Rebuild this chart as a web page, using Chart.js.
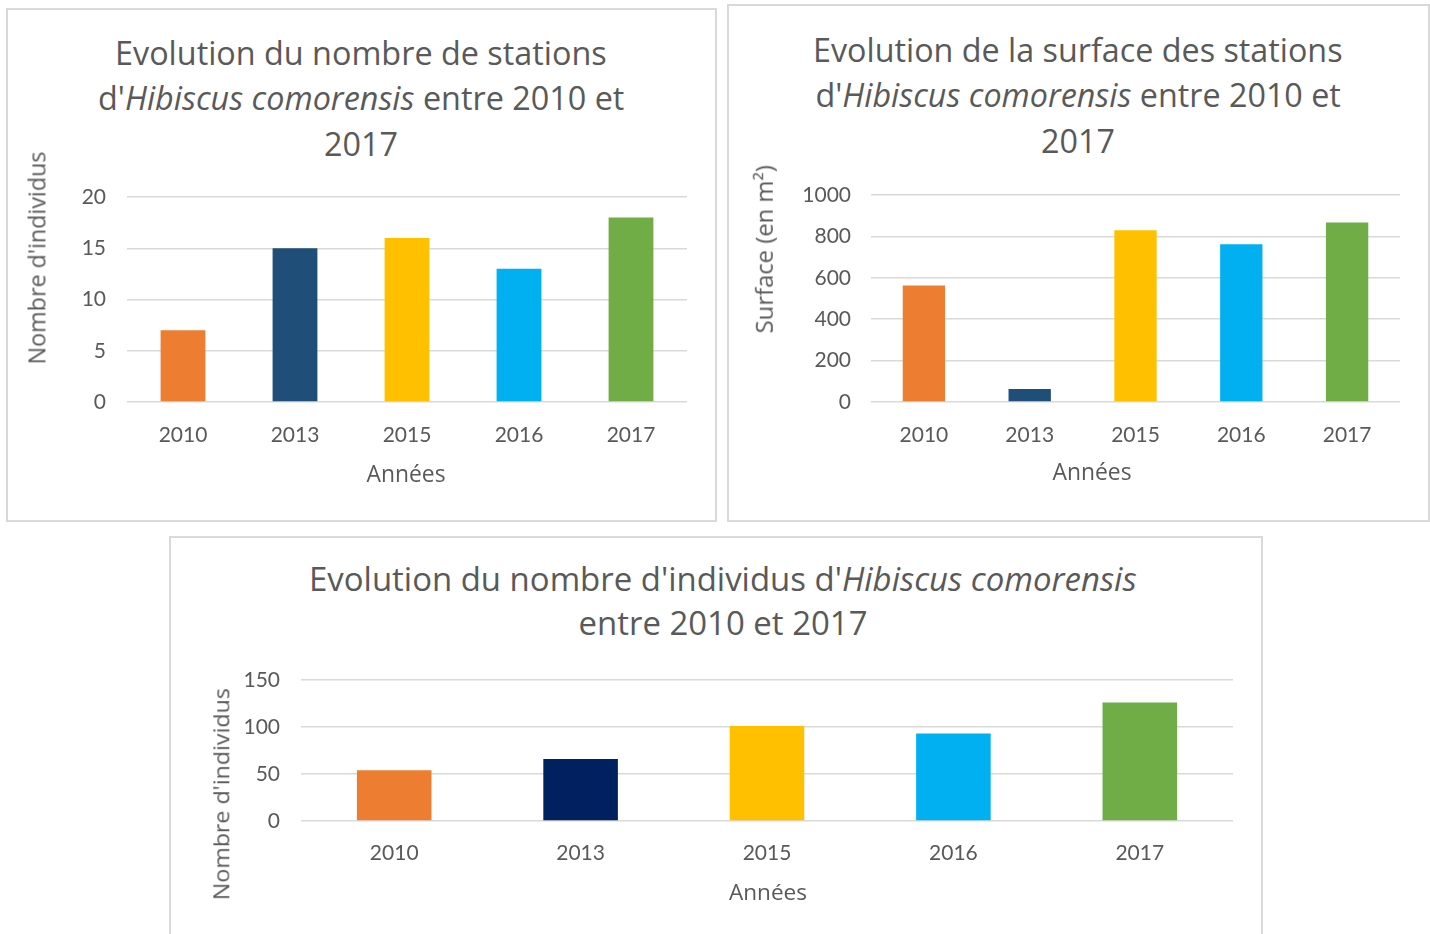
<!DOCTYPE html>
<html>
<head>
<meta charset="utf-8">
<script src="https://cdn.jsdelivr.net/npm/chart.js@4.4.0/dist/chart.umd.min.js"></script>
<style>
  body { margin: 0; width: 1430px; height: 934px; overflow: hidden; background: #fff; position: relative;
         font-family: 'Open Sans', sans-serif; color: #595959; }
  .box { position: absolute; border: 2px solid #d9d9d9; box-sizing: border-box; }
  .txt { position: absolute; white-space: nowrap; line-height: 1.2; }
  canvas { position: absolute; }
</style>
</head>
<body>
<div class="box" style="left:6px;top:8px;width:711px;height:514px"></div>
<div class="box" style="left:727px;top:4px;width:703px;height:518px"></div>
<div class="box" style="left:169px;top:536px;width:1094px;height:410px"></div>

<canvas id="c1" width="690" height="320" style="left:10px;top:180px"></canvas>
<canvas id="c2" width="680" height="320" style="left:735px;top:175px"></canvas>
<canvas id="c3" width="1070" height="270" style="left:180px;top:660px"></canvas>

<script>
// data
const years = ['2010', '2013', '2015', '2016', '2017'];
const nbStations = [7, 15, 16, 13, 18];
const surfaceStations = [563, 63, 830, 762, 867];
const nbIndividus = [54, 66, 101, 93, 126];

const coloursTop = ['#ED7D31', '#1F4E79', '#FFC000', '#00B0F0', '#70AD47'];
const coloursBottom = ['#ED7D31', '#002060', '#FFC000', '#00B0F0', '#70AD47'];

const titleStations = ['Evolution du nombre de stations', "d'<i>Hibiscus comorensis</i> entre 2010 et", '2017'];
const titleSurface = ['Evolution de la surface des stations', "d'<i>Hibiscus comorensis</i> entre 2010 et", '2017'];
const titleIndividus = ["Evolution du nombre d'individus d'<i>Hibiscus comorensis</i>", 'entre 2010 et 2017'];

Chart.defaults.font.family = 'Lato, sans-serif';
Chart.defaults.color = '#595959';

function barChart(id, values, colours, yMax, yStep, g) {
    return new Chart(document.getElementById(id), {
        type: 'bar',
        data: {
            labels: years,
            datasets: [{
                data: values,
                backgroundColor: colours,
                borderWidth: 0,
                categoryPercentage: 1,
                barPercentage: 0.4,
            }]
        },
        options: {
            responsive: false,
            animation: false,
            layout: { padding: { top: g.top, right: g.right, left: 0, bottom: 0 } },
            plugins: { legend: { display: false }, tooltip: { enabled: false } },
            scales: {
                x: {
                    grid: { display: false, drawTicks: false },
                    border: { display: false },
                    ticks: { font: { size: 21 }, padding: g.xTickPad },
                    afterFit: (s) => { s.height = g.xHeight; },
                },
                y: {
                    min: 0, max: yMax,
                    ticks: { stepSize: yStep, font: { size: 21 }, padding: g.yTickPad, callback: (v) => String(v) },
                    grid: { color: '#d9d9d9', lineWidth: 1.5, drawTicks: false },
                    border: { display: false },
                    afterFit: (s) => { s.width = g.yWidth; s.paddingTop = 0; s.paddingBottom = 0; },
                }
            }
        }
    });
}

barChart('c1', nbStations, coloursTop, 20, 5,
    { top: 17, right: 13, xHeight: 98, xTickPad: 21, yWidth: 117, yTickPad: 21 });
barChart('c2', surfaceStations, coloursTop, 1000, 200,
    { top: 20, right: 15, xHeight: 93, xTickPad: 21, yWidth: 136, yTickPad: 20 });
barChart('c3', nbIndividus, coloursBottom, 150, 50,
    { top: 20, right: 17, xHeight: 109, xTickPad: 20, yWidth: 121, yTickPad: 21 });

// text placed as html, sized to the width it has in the picture
function addText(html, cx, cy, size, rotate) {
    const el = document.createElement('div');
    el.className = 'txt';
    el.innerHTML = html;
    el.style.fontSize = size + 'px';
    document.body.appendChild(el);
    const w = el.offsetWidth, h = el.offsetHeight;
    el.style.left = (cx - w / 2) + 'px';
    el.style.top = (cy - h / 2) + 'px';
    if (rotate) el.style.transform = 'rotate(-90deg)';
    return el;
}
function fitSize(html, target, base) {
    const el = addText(html, 0, -200, base);
    const s = base * target / el.offsetWidth;
    el.remove();
    return s;
}
function title(lines, cx, cys, target) {
    const s = fitSize(lines[0], target, 30);
    lines.forEach((l, i) => addText(l, cx, cys[i], s));
}
function axisTitle(text, cx, cy, len, rotate) {
    addText(text, cx, cy, fitSize(text, len, 22), rotate);
}

title(titleStations, 361, [52, 97, 143], 492);
title(titleSurface, 1078, [49, 94, 140], 530);
title(titleIndividus, 723, [579, 623], 828);

axisTitle("Nombre d'individus", 37, 258, 213, true);
axisTitle('Années', 406, 473, 79, false);
axisTitle('Surface (en m²)', 764, 249, 168, true);
axisTitle('Années', 1092, 471, 79, false);
axisTitle('Années', 768, 891, 78, false);
// bottom chart: label is stretched along its length in the picture
(function () {
    const el = addText("Nombre d'individus", 220, 794, 22, false);
    const k = 212 / el.offsetWidth;
    el.style.transform = 'rotate(-90deg) scaleX(' + k + ')';
})();
</script>
</body>
</html>
